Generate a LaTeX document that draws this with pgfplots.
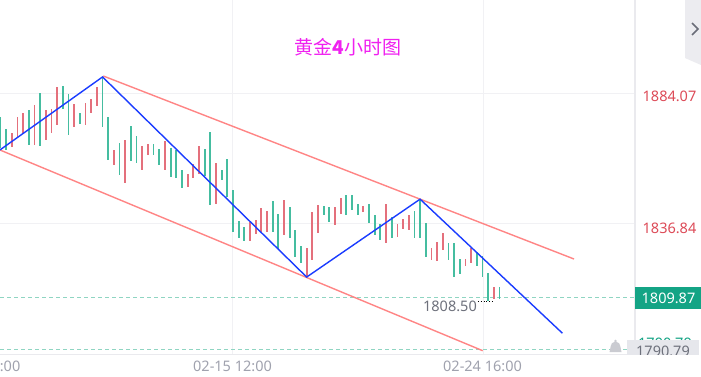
\documentclass[border=0pt]{standalone}
\usepackage{pgfplots}
\pgfplotsset{compat=1.18}
\usepackage{pgfplotstable}
\usepackage{fontspec}
\setmainfont{Noto Sans}
\newfontfamily\cjk{Noto Sans CJK SC}
\definecolor{upc}{HTML}{45BDA0}
\definecolor{dnc}{HTML}{E4707C}
\definecolor{bluec}{HTML}{1A3CFF}
\definecolor{chanc}{HTML}{FF8585}
\definecolor{gridc}{HTML}{F1F1F4}
\definecolor{sepc}{HTML}{EAEAEE}
\definecolor{dashc}{HTML}{8FD5C2}
\definecolor{magc}{HTML}{F020F0}
\definecolor{redlab}{HTML}{DD4B58}
\definecolor{tealbox}{HTML}{14A485}
\definecolor{graybox}{HTML}{E6E7EC}
\definecolor{graytxt}{HTML}{6E717C}
\definecolor{timec}{HTML}{A0A2AE}
\definecolor{tabc}{HTML}{ECECF0}
\definecolor{chevc}{HTML}{6A6D78}
\definecolor{bellc}{HTML}{CACBD1}

\pgfplotstableread{
i h l
0 1875.46 1863.98
1 1870.99 1863.36
5 1877.89 1865.18
7 1884.18 1864.82
11 1886.61 1878.15
12 1883.71 1868.81
14 1876.91 1872.81
18 1889.88 1871.72
19 1875.46 1859.73
21 1865.80 1854.28
23 1872.08 1859.55
24 1868.27 1858.75
27 1865.54 1861.55
28 1863.73 1857.91
30 1864.09 1853.73
31 1863.36 1853.19
32 1856.10 1849.74
36 1863.62 1853.92
37 1870.08 1843.38
39 1856.10 1852.46
40 1859.98 1846.40
41 1848.83 1833.57
42 1837.39 1831.28
43 1835.39 1830.30
48 1844.83 1833.68
49 1840.11 1827.39
51 1842.65 1831.39
52 1834.30 1824.49
53 1828.48 1822.31
57 1843.02 1839.75
58 1842.65 1837.31
61 1847.01 1839.75
62 1847.01 1841.56
63 1843.74 1839.75
65 1843.74 1836.95
66 1839.75 1832.48
67 1836.48 1830.66
69 1839.20 1831.39
73 1841.20 1831.57
74 1845.56 1831.28
75 1836.95 1824.49
79 1829.68 1823.40
80 1829.47 1817.33
81 1823.65 1818.31
84 1826.41 1821.22
85 1824.85 1817.33
86 1818.78 1808.50
88 1813.48 1809.40
}\up

\pgfplotstableread{
i h l
2 1869.65 1864.34
3 1875.46 1868.19
4 1876.91 1869.43
6 1879.82 1865.18
8 1877.89 1867.00
9 1878.15 1869.65
10 1886.14 1872.44
13 1880.07 1871.61
15 1880.55 1872.44
16 1881.78 1876.91
17 1886.14 1879.35
20 1863.36 1857.91
22 1867.00 1851.48
25 1864.82 1856.10
26 1865.54 1861.55
29 1866.63 1856.10
33 1854.82 1850.10
34 1858.28 1853.19
35 1864.82 1854.82
38 1858.75 1843.85
44 1837.39 1830.30
45 1838.11 1832.84
46 1842.18 1833.57
47 1841.38 1833.68
50 1845.20 1832.48
54 1827.76 1817.22
55 1840.84 1823.40
56 1843.38 1833.21
59 1842.76 1836.11
60 1846.10 1840.11
64 1843.02 1840.95
68 1843.74 1829.68
70 1836.66 1831.65
71 1838.18 1834.66
72 1839.75 1834.30
76 1827.94 1823.40
77 1830.12 1823.03
78 1833.21 1827.03
82 1823.65 1821.22
83 1827.65 1822.42
87 1813.70 1809.12
}\down

\begin{document}
\begin{tikzpicture}
\path[use as bounding box] (0,0) rectangle (701pt,376pt);
\clip (0,0) rectangle (701pt,376pt);
\fill[white] (0,0) rectangle (701pt,376pt);
\begin{axis}[
  at={(0pt,22pt)}, anchor=south west, scale only axis,
  width=635pt, height=354pt,
  xmin=-0.0882, xmax=111.905, ymin=1789.247, ymax=1917.857,
  axis line style={draw=none},
  xtick={40.83,85.10}, ytick={1884.07,1836.84},
  xticklabels={}, yticklabels={},
  major tick length=0pt,
  grid=major, major grid style={draw=gridc, line width=1pt},
  clip=false]
% dashed price lines
\addplot[dashc, line width=1pt, dash pattern=on 4pt off 3pt, forget plot] coordinates {(-0.0882,1809.87) (111.905,1809.87)};
\addplot[dashc, line width=1pt, dash pattern=on 4pt off 3pt, forget plot] coordinates {(-0.0882,1790.79) (111.905,1790.79)};
% channel lines
\addplot[chanc, line width=1.4pt, forget plot] coordinates {(18.13,1890.25) (101.15,1823.76)};
\addplot[chanc, line width=1.4pt, forget plot] coordinates {(-0.09,1863.36) (85.04,1790.45)};
% candles
\addplot[draw=none, mark=none, forget plot,
  error bars/.cd, y dir=both, y explicit, error mark=none,
  error bar style={draw=upc, line width=1.8pt}]
  table[x=i, y expr=(\thisrow{h}+\thisrow{l})/2, y error expr=(\thisrow{h}-\thisrow{l})/2] {\up};
\addplot[draw=none, mark=none, forget plot,
  error bars/.cd, y dir=both, y explicit, error mark=none,
  error bar style={draw=dnc, line width=1.8pt}]
  table[x=i, y expr=(\thisrow{h}+\thisrow{l})/2, y error expr=(\thisrow{h}-\thisrow{l})/2] {\down};
% zigzag
\addplot[bluec, line width=1.4pt, forget plot] coordinates {(-0.09,1863.4) (18.0,1889.9) (54.0,1817.2) (74.0,1845.5) (99.1,1796.8)};
% low marker
\addplot[black, line width=0.8pt, dotted, forget plot] coordinates {(84.2,1808.5) (87.0,1808.5)};
\end{axis}
% separators
\draw[sepc, line width=1.4pt] (635pt,21pt) -- (635pt,376pt);
\draw[sepc, line width=0.8pt] (0pt,21.5pt) -- (635pt,21.5pt);
% title
\node[text=magc, font=\cjk\fontsize{19}{19}\selectfont] at (348pt,329pt) {黄金{\bfseries 4}小时图};
% right price labels
\node[text=redlab, font=\fontsize{14.5}{15}\selectfont] at (669.5pt,279.3pt) {1884.07};
\node[text=redlab, font=\fontsize{14.5}{15}\selectfont] at (669.5pt,147.7pt) {1836.84};
\fill[tealbox] (635pt,67pt) rectangle (701pt,89pt);
\node[text=white, font=\fontsize{14.5}{15}\selectfont] at (668.5pt,78pt) {1809.87};
\node[text=tealbox, font=\fontsize{14.5}{15}\selectfont] at (665pt,32.5pt) {1790.79};
\fill[graybox] (627pt,21pt) rectangle (699pt,36pt);
\node[text=graytxt, font=\fontsize{14.5}{15}\selectfont] at (663pt,24.5pt) {1790.79};
% bell
\fill[bellc] (609.5pt,24pt) -- (621.5pt,24pt) -- (621pt,26pt) .. controls (620pt,33pt) and (618.5pt,34.5pt) .. (615.5pt,34.5pt) .. controls (612.5pt,34.5pt) and (611pt,33pt) .. (610pt,26pt) -- cycle;
\fill[bellc] (615.5pt,35pt) circle (1.3pt);
% cover below price axis
\fill[white] (540pt,0pt) rectangle (701pt,21pt);
% low label
\node[anchor=east, inner sep=0pt, text=graytxt, font=\fontsize{14.5}{15}\selectfont] at (477pt,69.3pt) {1808.50};
% time labels
\node[text=timec, font=\fontsize{14.5}{15}\selectfont] at (232.5pt,9.3pt) {02-15 12:00};
\node[text=timec, font=\fontsize{14.5}{15}\selectfont] at (482.5pt,9.3pt) {02-24 16:00};
\node[text=timec, font=\fontsize{14.5}{15}\selectfont] at (-19pt,9.3pt) {02-04 08:00};
% top-right tab
\fill[tabc] (685pt,376pt) -- (685pt,318pt) -- (701pt,311pt) -- (701pt,376pt) -- cycle;
\draw[chevc, line width=1.5pt] (692pt,353pt) -- (698pt,347pt) -- (692pt,341pt);
\end{tikzpicture}
\end{document}
